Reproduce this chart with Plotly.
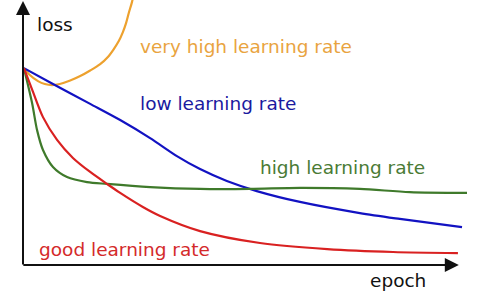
import plotly.graph_objects as go

# epoch (0-100) vs loss (0-100)
very_high_x = [0.2, 1.5, 3.3, 4.8, 6.4, 8.1, 10.4, 12.6, 14.8, 17.0, 18.7, 20.0, 21.1, 22.0, 22.7, 23.3, 24.0, 24.4]
very_high_y = [74.3, 71.7, 69.4, 68.3, 67.9, 68.3, 69.6, 71.3, 73.4, 75.8, 78.5, 81.5, 84.5, 87.9, 91.3, 95.1, 99.2, 102.3]

low_x = [0.2, 6.6, 14.8, 21.4, 28.0, 33.9, 39.0, 44.9, 51.5, 61.0, 74.2, 83.0, 96.7]
low_y = [74.3, 68.3, 60.8, 54.7, 47.9, 41.1, 36.2, 31.7, 27.9, 23.8, 19.6, 17.4, 14.3]

high_x = [0.2, 2.0, 3.1, 4.4, 6.6, 9.7, 14.1, 18.5, 28.0, 39.0, 50.0, 61.0, 74.2, 85.2, 97.8]
high_y = [74.3, 61.1, 50.9, 43.4, 37.0, 33.2, 31.3, 30.6, 29.4, 28.7, 28.7, 29.1, 28.7, 27.5, 27.2]

good_x = [0.2, 2.2, 4.4, 7.5, 11.0, 14.8, 18.5, 21.4, 26.4, 30.2, 39.0, 52.2, 67.0, 81.5, 95.8]
good_y = [74.3, 65.3, 55.8, 47.2, 40.4, 35.1, 30.6, 27.2, 21.9, 18.5, 12.8, 8.3, 6.0, 4.9, 4.5]

series = [
    ("very high learning rate", very_high_x, very_high_y, "#EDA12E", "#E9A43F", 0.253, 0.825),
    ("low learning rate", low_x, low_y, "#1212C2", "#1A1AA0", 0.253, 0.609),
    ("high learning rate", high_x, high_y, "#3F7A2B", "#4A7B35", 0.518, 0.368),
    ("good learning rate", good_x, good_y, "#D92121", "#D42A2A", 0.031, 0.058),
]

FONT = "DejaVu Sans"
FS = 18.5

fig = go.Figure()
annotations = []
for name, xs, ys, lc, tc, tx, ty in series:
    fig.add_trace(go.Scatter(x=xs, y=ys, mode="lines", name=name,
                             line=dict(color=lc, width=2.2, shape="spline", smoothing=0.8),
                             hoverinfo="skip"))
    annotations.append(dict(text=name, xref="paper", yref="paper", x=tx, y=ty,
                            xanchor="left", yanchor="middle", showarrow=False,
                            font=dict(family=FONT, size=FS, color=tc)))

annotations.append(dict(text="loss", xref="paper", yref="paper", x=0.026, y=0.909,
                        xanchor="left", yanchor="middle", showarrow=False,
                        font=dict(family=FONT, size=FS, color="#111111")))
annotations.append(dict(text="epoch", xref="paper", yref="paper", x=0.760, y=-0.0585,
                        xanchor="left", yanchor="middle", showarrow=False,
                        font=dict(family=FONT, size=FS, color="#111111")))

# axes drawn as arrows
annotations.append(dict(text="", xref="paper", yref="paper", x=0, y=1.0,
                        ax=0, ay=266, axref="pixel", ayref="pixel",
                        showarrow=True, arrowhead=2, arrowsize=1.4, arrowwidth=2,
                        arrowcolor="#111111", standoff=0))
annotations.append(dict(text="", xref="paper", yref="paper", x=0.960, y=0.0,
                        ax=-437, ay=0, axref="pixel", ayref="pixel",
                        showarrow=True, arrowhead=2, arrowsize=1.4, arrowwidth=2,
                        arrowcolor="#111111", standoff=0))

fig.update_layout(
    width=477, height=296,
    margin=dict(l=23, r=0, t=0, b=31),
    paper_bgcolor="white", plot_bgcolor="white",
    showlegend=False,
    annotations=annotations,
    xaxis=dict(range=[0, 100], visible=False, fixedrange=True),
    yaxis=dict(range=[0, 100], visible=False, fixedrange=True),
)

fig.write_html("out.html", config={"displayModeBar": False})
